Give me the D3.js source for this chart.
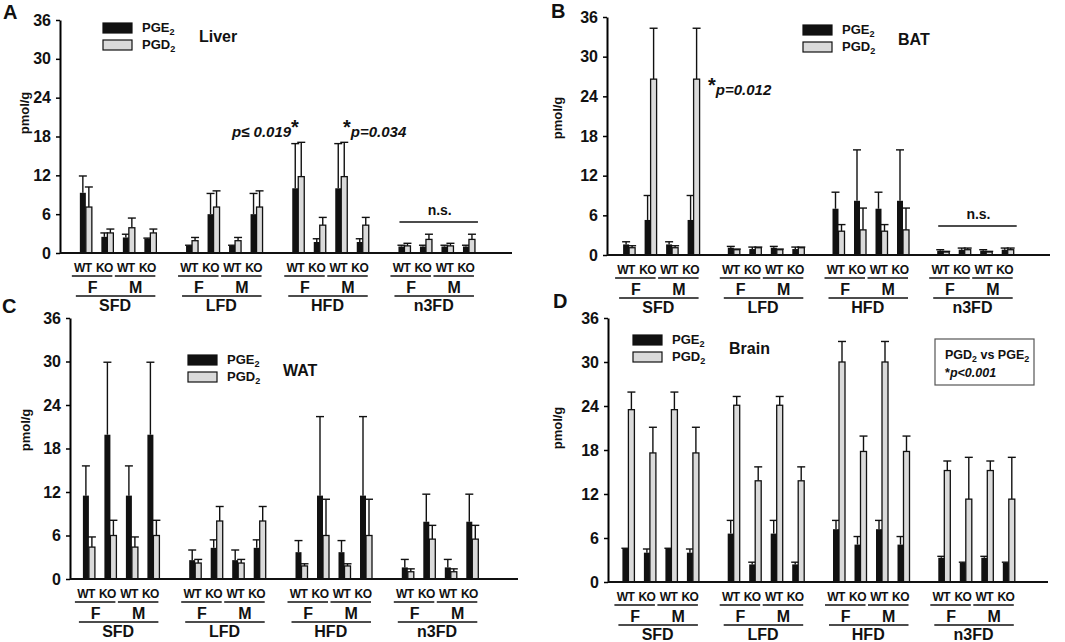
<!DOCTYPE html>
<html>
<head>
<meta charset="utf-8">
<script src="https://cdn.jsdelivr.net/npm/d3@7"></script>
<style>
  body { margin: 0; background: #fff; }
  svg { font-family: "Liberation Sans", Arial, sans-serif; font-weight: bold; }
</style>
</head>
<body>
<svg id="chart" width="1065" height="642"></svg>
<script>
const diets = ["SFD", "LFD", "HFD", "n3FD"];
const sexes = ["F", "M"];
const genotypes = ["WT", "KO"];
const series = ["PGE2", "PGD2"];
const yTicks = [0, 6, 12, 18, 24, 30, 36];

// every array: SFD (F-WT, F-KO, M-WT, M-KO), LFD (...), HFD (...), n3FD (...)
const liverPGE2    = [9.3, 2.5, 2.4, 2.2,  1.1, 6.0, 1.1, 6.0,  10.0, 1.7, 10.0, 1.7,  1.0, 1.0, 1.0, 1.0];
const liverPGE2Err = [2.6, 0.6, 0.5, 0.1,  0.1, 3.2, 0.1, 3.2,  6.9, 0.5, 6.9, 0.5,  0.2, 0.2, 0.2, 0.2];
const liverPGD2    = [7.1, 3.1, 3.9, 3.1,  1.9, 7.1, 1.9, 7.1,  11.8, 4.3, 11.8, 4.3,  1.1, 2.1, 1.1, 2.1];
const liverPGD2Err = [3.1, 0.6, 1.5, 0.6,  0.5, 2.5, 0.5, 2.5,  5.3, 1.2, 5.3, 1.2,  0.4, 0.8, 0.4, 0.8];

const batPGE2    = [1.6, 5.3, 1.6, 5.3,  1.1, 0.9, 1.1, 0.9,  7.0, 8.2, 7.0, 8.2,  0.65, 0.8, 0.65, 0.8];
const batPGE2Err = [0.4, 3.7, 0.4, 3.7,  0.2, 0.3, 0.2, 0.3,  2.5, 7.7, 2.5, 7.7,  0.15, 0.25, 0.15, 0.25];
const batPGD2    = [1.1, 26.6, 1.1, 26.6,  0.8, 1.1, 0.8, 1.1,  3.6, 3.8, 3.6, 3.8,  0.45, 0.8, 0.45, 0.8];
const batPGD2Err = [0.3, 7.7, 0.3, 7.7,  0.1, 0.1, 0.1, 0.1,  1.0, 3.3, 1.0, 3.3,  0.1, 0.25, 0.1, 0.25];

const watPGE2    = [11.5, 19.9, 11.5, 19.9,  2.6, 4.3, 2.6, 4.3,  3.7, 11.5, 3.7, 11.5,  1.6, 7.9, 1.6, 7.9];
const watPGE2Err = [4.1, 10.0, 4.1, 10.0,  1.4, 1.1, 1.4, 1.1,  1.6, 10.9, 1.6, 10.9,  1.1, 3.8, 1.1, 3.8];
const watPGD2    = [4.4, 6.0, 4.4, 6.0,  2.2, 8.0, 2.2, 8.0,  1.8, 6.0, 1.8, 6.0,  1.0, 5.5, 1.0, 5.5];
const watPGD2Err = [1.4, 2.1, 1.4, 2.1,  0.5, 2.0, 0.5, 2.0,  0.3, 5.0, 0.3, 5.0,  0.4, 1.9, 0.4, 1.9];

const brainPGE2    = [4.5, 4.0, 4.5, 4.0,  6.6, 2.4, 6.6, 2.4,  7.2, 5.1, 7.2, 5.1,  3.3, 2.6, 3.3, 2.6];
const brainPGE2Err = [0.1, 0.5, 0.1, 0.5,  1.8, 0.3, 1.8, 0.3,  1.2, 1.1, 1.2, 1.1,  0.2, 0.1, 0.2, 0.1];
const brainPGD2    = [23.5, 17.6, 23.5, 17.6,  24.1, 13.8, 24.1, 13.8,  30.0, 17.8, 30.0, 17.8,  15.2, 11.3, 15.2, 11.3];
const brainPGD2Err = [2.4, 3.5, 2.4, 3.5,  1.2, 1.9, 1.2, 1.9,  2.8, 2.1, 2.8, 2.1,  1.3, 5.7, 1.3, 5.7];

const groups = sexes.flatMap(s => genotypes.map(g => s + "-" + g));

const panels = [
  { letter: "A", tissue: "Liver", vals: [liverPGE2, liverPGD2], errs: [liverPGE2Err, liverPGD2Err],
    axisX: 60, top: 20, zero: 253, right: 512, x0: 65, step: 106.2,
    letterPos: [3, 19], legend: [103, 23], tissuePos: [199, 42], titlePos: [29, 113] },
  { letter: "B", tissue: "BAT", vals: [batPGE2, batPGD2], errs: [batPGE2Err, batPGD2Err],
    axisX: 607, top: 17, zero: 255, right: 1050, x0: 609, step: 104.7,
    letterPos: [551, 18], legend: [803, 25], tissuePos: [898, 45], titlePos: [562, 118] },
  { letter: "C", tissue: "WAT", vals: [watPGE2, watPGD2], errs: [watPGE2Err, watPGD2Err],
    axisX: 70, top: 318, zero: 579, right: 518, x0: 68, step: 106.3,
    letterPos: [2, 313], legend: [188, 355], tissuePos: [283, 376], titlePos: [30, 430] },
  { letter: "D", tissue: "Brain", vals: [brainPGE2, brainPGD2], errs: [brainPGE2Err, brainPGD2Err],
    axisX: 608, top: 318, zero: 582, right: 1048, x0: 608, step: 105.3,
    letterPos: [553, 308], legend: [633, 335], tissuePos: [729, 354], titlePos: [562, 428] }
];

const svg = d3.select("#chart");

function subText(sel, base, sub, size) {
  sel.append("tspan").text(base);
  sel.append("tspan").text(sub).attr("font-size", size * 0.7).attr("dy", size * 0.25);
}

panels.forEach(p => {
  const g = svg.append("g");
  const y = d3.scaleLinear().domain([0, 36]).range([p.zero, p.top]);
  const xDiet = d3.scaleBand().domain(diets).range([p.x0, p.x0 + 4 * p.step]);
  const xGroup = d3.scaleBand().domain(groups).range([p.step / 2 - 43, p.step / 2 + 43]);
  const xSer = d3.scaleBand().domain(series)
    .range([xGroup.bandwidth() / 2 - 6, xGroup.bandwidth() / 2 + 6]);
  const pairCenter = (d, gr) => xDiet(d) + xGroup(gr) + xGroup.bandwidth() / 2;

  const rows = diets.flatMap((d, i) => groups.flatMap((gr, j) => series.map((s, k) => ({
    diet: d, group: gr, series: s, value: p.vals[k][i * 4 + j], err: p.errs[k][i * 4 + j]
  }))));

  // error bars first so the bars sit on top of them
  const eb = g.append("g").attr("stroke", "#111").attr("stroke-width", 1.4);
  const cx = d => xDiet(d.diet) + xGroup(d.group) + xSer(d.series) + xSer.bandwidth() / 2;
  eb.selectAll("line.v").data(rows).join("line").attr("class", "v")
    .attr("x1", cx).attr("x2", cx)
    .attr("y1", d => y(d.value)).attr("y2", d => y(d.value + d.err));
  eb.selectAll("line.c").data(rows).join("line").attr("class", "c")
    .attr("x1", d => cx(d) - 4).attr("x2", d => cx(d) + 4)
    .attr("y1", d => y(d.value + d.err)).attr("y2", d => y(d.value + d.err));

  g.append("g").selectAll("rect").data(rows).join("rect")
    .attr("x", d => xDiet(d.diet) + xGroup(d.group) + xSer(d.series))
    .attr("y", d => y(d.value))
    .attr("width", xSer.bandwidth())
    .attr("height", d => y(0) - y(d.value))
    .attr("fill", d => d.series === "PGE2" ? "#111" : "#dadada")
    .attr("stroke", "#111")
    .attr("stroke-width", d => d.series === "PGE2" ? 0 : 1.3);

  // axes
  const ya = g.append("g").attr("transform", `translate(${p.axisX},0)`)
    .call(d3.axisLeft(y).tickValues(yTicks).tickSize(4).tickSizeOuter(0).tickPadding(5));
  ya.select(".domain").attr("stroke-width", 2);
  ya.selectAll(".tick line").attr("stroke-width", 1.5);
  ya.selectAll(".tick text").attr("font-size", 16).attr("font-weight", "bold")
    .attr("font-family", "Liberation Sans, Arial, sans-serif").attr("fill", "#111");
  g.append("line").attr("x1", p.axisX).attr("x2", p.right).attr("y1", p.zero).attr("y2", p.zero)
    .attr("stroke", "#111").attr("stroke-width", 2);

  // category labels below the axis
  const lab = g.append("g").attr("fill", "#111").attr("text-anchor", "middle");
  diets.forEach(d => {
    groups.forEach(gr => {
      lab.append("text").attr("x", pairCenter(d, gr) - 3).attr("y", p.zero + 19)
        .attr("font-size", 12).attr("letter-spacing", -0.6).text(gr.split("-")[1]);
    });
    sexes.forEach(s => {
      const a = pairCenter(d, s + "-WT"), b = pairCenter(d, s + "-KO");
      lab.append("line").attr("x1", a - 14).attr("x2", b + 5)
        .attr("y1", p.zero + 23).attr("y2", p.zero + 23).attr("stroke", "#111").attr("stroke-width", 1.5);
      lab.append("text").attr("x", (a + b) / 2 - 4).attr("y", p.zero + 40)
        .attr("font-size", 16).text(s);
    });
    const a = pairCenter(d, groups[0]), b = pairCenter(d, groups[3]);
    lab.append("line").attr("x1", a - 10).attr("x2", b + 5)
      .attr("y1", p.zero + 43).attr("y2", p.zero + 43).attr("stroke", "#111").attr("stroke-width", 1.5);
    lab.append("text").attr("x", (a + b) / 2 - 3).attr("y", p.zero + 58)
      .attr("font-size", 16).text(d);
  });

  // y title, panel letter, tissue name
  g.append("text").attr("transform", `translate(${p.titlePos[0]},${p.titlePos[1]}) rotate(-90)`)
    .attr("text-anchor", "middle").attr("font-size", 13).attr("fill", "#111").text("pmol/g");
  g.append("text").attr("x", p.letterPos[0]).attr("y", p.letterPos[1])
    .attr("font-size", 20).attr("fill", "#111").text(p.letter);
  g.append("text").attr("x", p.tissuePos[0]).attr("y", p.tissuePos[1])
    .attr("font-size", 16).attr("fill", "#111").text(p.tissue);

  // legend
  const [lx, ly] = p.legend;
  series.forEach((s, i) => {
    g.append("rect").attr("x", lx).attr("y", ly + i * 17).attr("width", 29).attr("height", 10)
      .attr("fill", i === 0 ? "#111" : "#dadada").attr("stroke", "#111").attr("stroke-width", 1.2);
    subText(g.append("text").attr("x", lx + 39).attr("y", ly + 9 + i * 17)
      .attr("font-size", 13).attr("fill", "#111"), s.slice(0, 3), s.slice(3), 13);
  });

  p.y = y; p.pairCenter = pairCenter; p.g = g;
});

// annotations
function nsMark(p, lineY) {
  const a = p.pairCenter("n3FD", groups[0]) - 5, b = p.pairCenter("n3FD", groups[3]) + 9;
  p.g.append("line").attr("x1", a).attr("x2", b).attr("y1", lineY).attr("y2", lineY)
    .attr("stroke", "#111").attr("stroke-width", 1.5);
  p.g.append("text").attr("x", (a + b) / 2 + 1).attr("y", lineY - 7).attr("text-anchor", "middle")
    .attr("font-size", 14).attr("fill", "#111").text("n.s.");
}

const [pA, pB, pC, pD] = panels;
{
  const t = pA.g.append("text").attr("x", 232).attr("y", 137).attr("font-size", 15).attr("fill", "#111");
  t.append("tspan").text("p≤ 0.019").attr("font-style", "italic");
  t.append("tspan").text("*").attr("font-size", 20).attr("dy", -3);
  const t2 = pA.g.append("text").attr("x", 343).attr("y", 137).attr("font-size", 15).attr("fill", "#111");
  t2.append("tspan").text("*").attr("font-size", 20).attr("dy", -3);
  t2.append("tspan").text("p=0.034").attr("font-style", "italic").attr("dy", 3);
  nsMark(pA, 222);

  const t3 = pB.g.append("text").attr("x", 708).attr("y", 95).attr("font-size", 15).attr("fill", "#111");
  t3.append("tspan").text("*").attr("font-size", 20).attr("dy", -3);
  t3.append("tspan").text("p=0.012").attr("font-style", "italic").attr("dy", 3);
  nsMark(pB, 226);

  pD.g.append("rect").attr("x", 935).attr("y", 339).attr("width", 99).attr("height", 46)
    .attr("fill", "#fff").attr("stroke", "#555").attr("stroke-width", 1.2);
  const t4 = pD.g.append("text").attr("x", 945).attr("y", 359).attr("font-size", 12.5).attr("fill", "#111");
  subText(t4, "PGD", "2", 12.5);
  t4.append("tspan").text(" vs PGE").attr("dy", -3);
  t4.append("tspan").text("2").attr("font-size", 9).attr("dy", 3);
  const t5 = pD.g.append("text").attr("x", 945).attr("y", 377).attr("font-size", 12.5).attr("fill", "#111");
  t5.append("tspan").text("*");
  t5.append("tspan").text("p<0.001").attr("font-style", "italic");
}
</script>
</body>
</html>
